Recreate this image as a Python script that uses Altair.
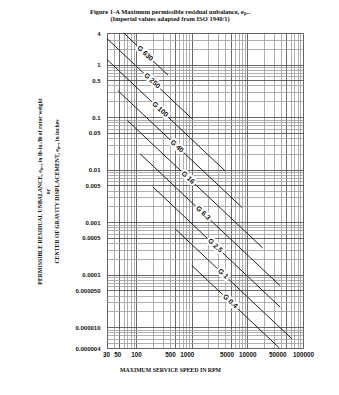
import altair as alt
import pandas as pd

# Balance-grade lines: end points
grades = ["G 630", "G 250", "G 100", "G 40", "G 16", "G 6.3", "G 2.5", "G 1", "G 0.4"]
start_rpm = [60, 30, 30, 47, 70, 118, 200, 500, 1000]
start_e = [4.0, 3.13, 1.25, 0.32, 0.086, 0.020, 0.0047, 0.00075, 0.00015]
end_rpm = [375, 1000, 4000, 8000, 19000, 39000, 39000, 63000, 37600]
end_e = [0.63, 0.094, 0.0094, 0.0019, 0.00032, 0.000061, 0.000024, 0.000006, 0.000004]
label_rpm = [145, 193, 269, 544, 855, 1597, 2630, 3660, 4890]
label_e = [1.63, 0.49, 0.14, 0.0277, 0.0070, 0.00148, 0.000357, 0.000103, 0.0000308]

# Axis tick labels
x_label_vals = [30, 50, 100, 500, 1000, 5000, 10000, 50000, 100000]
x_label_txt = ["30", "50", "100", "500", "1000", "5000", "10000", "50000", "100000"]
y_label_vals = [4, 1, 0.5, 0.1, 0.05, 0.01, 0.005, 0.001, 0.0005, 0.0001, 0.00005, 0.00001, 0.000004]
y_label_txt = ["4", "1", "0.5", "0.1", "0.05", "0.01", "0.005", "0.001", "0.0005", "0.0001",
               "0.000050", "0.000010", "0.000004"]

x_grid = [30, 40, 50, 60, 70, 80, 90,
          100, 200, 300, 400, 500, 600, 700, 800, 900,
          1000, 2000, 3000, 4000, 5000, 6000, 7000, 8000, 9000,
          10000, 20000, 30000, 40000, 50000, 60000, 70000, 80000, 90000, 100000]
y_grid = [0.000004, 0.000005, 0.000006, 0.000007, 0.000008, 0.000009,
          0.00001, 0.00002, 0.00003, 0.00004, 0.00005, 0.00006, 0.00007, 0.00008, 0.00009,
          0.0001, 0.0002, 0.0003, 0.0004, 0.0005, 0.0006, 0.0007, 0.0008, 0.0009,
          0.001, 0.002, 0.003, 0.004, 0.005, 0.006, 0.007, 0.008, 0.009,
          0.01, 0.02, 0.03, 0.04, 0.05, 0.06, 0.07, 0.08, 0.09,
          0.1, 0.2, 0.3, 0.4, 0.5, 0.6, 0.7, 0.8, 0.9,
          1, 2, 3, 4]


def is_val(v):
    return f"abs(datum.value/{v!r}-1)<1e-6"


def label_expr(vals, txts):
    expr = "''"
    for v, t in reversed(list(zip(vals, txts))):
        expr = f"{is_val(v)} ? '{t}' : ({expr})"
    return expr


def test_expr(vals):
    return " || ".join(is_val(v) for v in vals)


# label nudges as printed in the original figure (x labels sit slightly left of their lines)
x_label_nudge = {30: -1, 50: -2, 500: -5, 1000: -5, 5000: -4, 50000: -9}

rows = []
for g, sr, se, er, ee in zip(grades, start_rpm, start_e, end_rpm, end_e):
    rows.append({"grade": g, "rpm": sr, "e": se})
    rows.append({"grade": g, "rpm": er, "e": ee})
lines_df = pd.DataFrame(rows)
labels_df = pd.DataFrame({"grade": grades, "rpm": label_rpm, "e": label_e})

xscale = alt.Scale(type="log", domain=[30, 100000], nice=False)
yscale = alt.Scale(type="log", domain=[0.000004, 4], nice=False)

title_font = "Liberation Serif"

x_axis = alt.Axis(
    values=x_grid, labelExpr=label_expr(x_label_vals, x_label_txt),
    grid=True, ticks=False, domain=False,
    gridColor={"condition": {"test": test_expr(x_label_vals), "value": "#444444"}, "value": "#9a9a9a"},
    gridWidth=0.8,
    labelFont="Liberation Sans", labelFontSize=6.3, labelFontWeight="bold", labelColor="#111",
    labelPadding=3, labelOverlap=False, labelFlush=False,
    labelOffset={"condition": [{"test": is_val(v), "value": d} for v, d in x_label_nudge.items()],
                 "value": 0},
    title="MAXIMUM SERVICE SPEED IN RPM", titleFont=title_font, titleFontSize=5.8,
    titleFontWeight="bold", titleColor="#111", titleX=63, titleY=21,
    titleAlign="center", titleBaseline="middle",
)
y_axis = alt.Axis(
    values=y_grid, labelExpr=label_expr(y_label_vals, y_label_txt),
    grid=True, ticks=False, domain=False,
    gridColor={"condition": {"test": test_expr(y_label_vals), "value": "#444444"}, "value": "#9a9a9a"},
    gridWidth=0.8,
    labelFont="Liberation Sans", labelFontSize=6, labelFontWeight="bold", labelColor="#111",
    labelPadding=7, labelOverlap=False, labelFlush=False,
    title=["PERMISSIBLE RESIDUAL UNBALANCE, eₚₑᵣ, in lb-in./lb of rotor weight",
           "or",
           "CENTER OF GRAVITY DISPLACEMENT, eₚₑᵣ, in inches"],
    titleFont=title_font, titleFontSize=5.8, titleFontWeight="bold", titleColor="#111",
    titleLineHeight=8.5, titleX=-68, titleY=158, titleAngle=270,
    titleAlign="center", titleBaseline="middle",
)

base_lines = alt.Chart(lines_df).mark_line(color="#222222", strokeWidth=1).encode(
    x=alt.X("rpm:Q", scale=xscale, axis=x_axis),
    y=alt.Y("e:Q", scale=yscale, axis=y_axis),
    detail="grade:N",
)

halo = alt.Chart(labels_df).mark_text(
    angle=43, font="Liberation Sans", fontSize=7, fontWeight="bold",
    fill="white", stroke="white", strokeWidth=4,
).encode(x=alt.X("rpm:Q", scale=xscale), y=alt.Y("e:Q", scale=yscale), text="grade:N")

txt = alt.Chart(labels_df).mark_text(
    angle=43, font="Liberation Sans", fontSize=7, fontWeight="bold", color="#111",
).encode(x=alt.X("rpm:Q", scale=xscale), y=alt.Y("e:Q", scale=yscale), text="grade:N")

chart = alt.layer(base_lines, halo, txt).properties(
    width=196, height=315,
    autosize="none",
    padding={"left": 99, "top": 25, "right": 28, "bottom": 39},
    title=alt.TitleParams(
        text=["Figure 1-A Maximum permissible residual unbalance, eₚₑᵣ",
              "(Imperial values adapted from ISO 1940/1)"],
        font=title_font, fontSize=6.5, fontWeight="bold", color="#111",
        anchor="middle", dx=-35, offset=8, lineHeight=7,
    ),
).configure_view(stroke="#222", strokeWidth=1).configure(background="white")

chart.save("out.html", embed_options={"renderer": "svg", "actions": False})
